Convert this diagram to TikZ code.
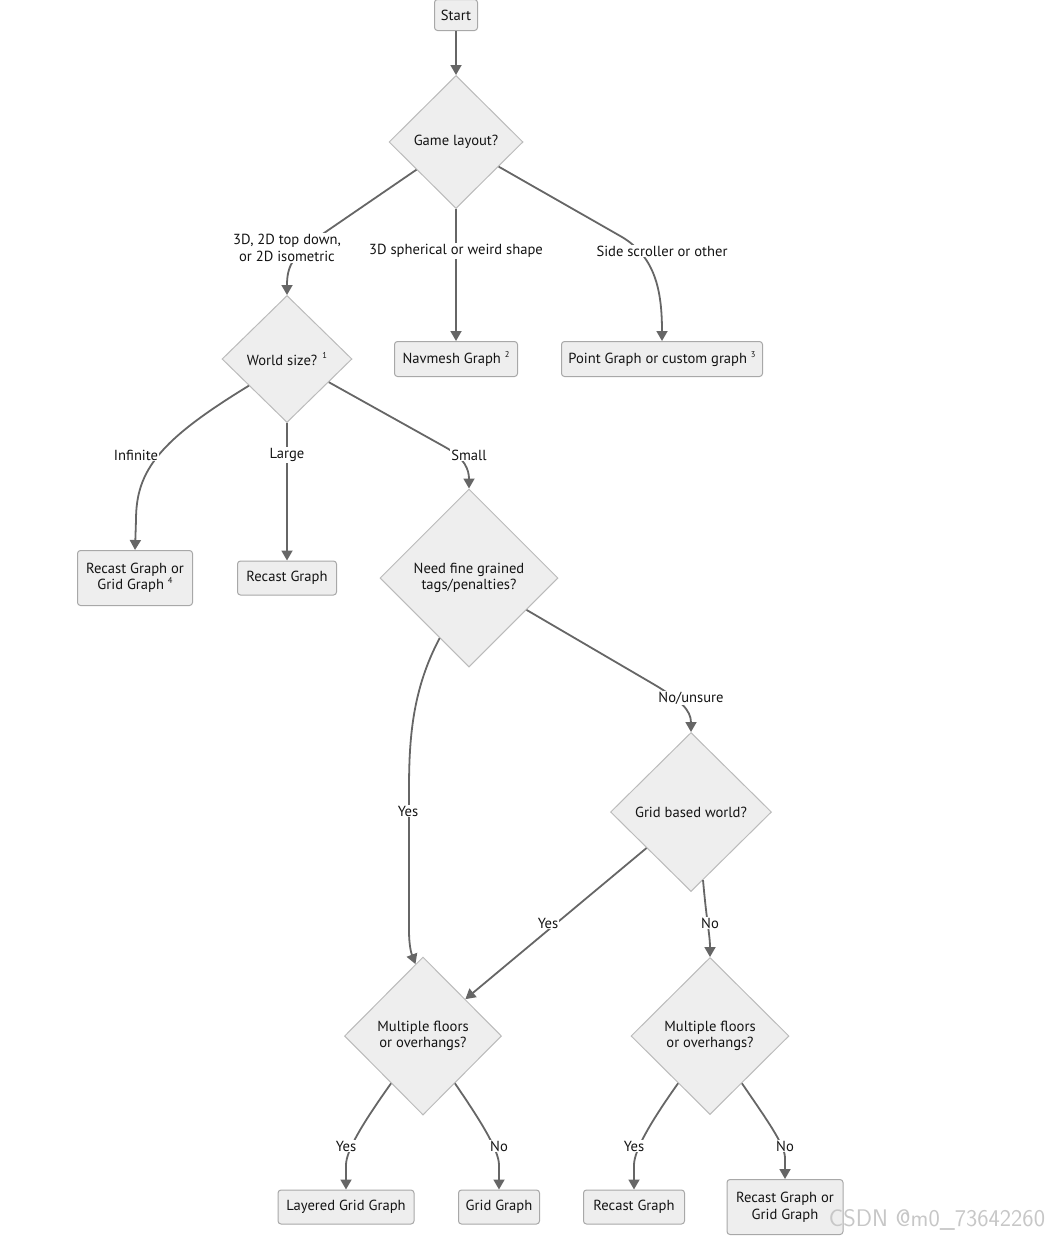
\documentclass[tikz,border=0pt]{standalone}
\usepackage{fontspec}
\setmainfont{PT Sans}
\usetikzlibrary{shapes.geometric,arrows.meta}
\definecolor{boxfill}{HTML}{EEEEEE}
\definecolor{boxline}{HTML}{A8A8A8}
\definecolor{dline}{HTML}{BBBBBB}
\definecolor{edgec}{HTML}{666666}
\definecolor{txt}{HTML}{141414}
\newcommand{\supnum}[1]{\raisebox{0.42em}{\fontsize{8.5}{8.5}\selectfont #1}}
\begin{document}
\begin{tikzpicture}[x=1pt,y=-1pt,
  font=\fontsize{14.6}{16.5}\selectfont,
  every node/.style={text=txt},
  box/.style={draw=boxline, fill=boxfill, rounded corners=3pt, line width=1pt, align=center, inner sep=0pt},
  dec/.style={diamond, aspect=1, draw=dline, fill=boxfill, line width=1pt, align=center, inner sep=0pt},
  arr/.style={draw=edgec, line width=1.8pt, -{Triangle[length=10pt,width=11pt]}},
  elabel/.style={fill=white, inner sep=1pt, align=center},
]
\useasboundingbox (0,0) rectangle (1051,1237);
% nodes
\node[box, minimum width=43pt, minimum height=31pt] (start) at (456,15) {Start};
\node[dec, minimum width=134pt, minimum height=133pt] (gl) at (456,142) {Game layout?};
\node[dec, minimum width=130pt, minimum height=127pt] (ws) at (287,359) {World size? \supnum{1}};
\node[box, minimum width=123pt, minimum height=35pt] (nav) at (456,359) {Navmesh Graph \supnum{2}};
\node[box, minimum width=201pt, minimum height=35pt] (pg) at (662,359) {Point Graph or custom graph \supnum{3}};
\node[box, minimum width=115pt, minimum height=55pt] (rg4) at (135,578) {Recast Graph or\\Grid Graph \supnum{4}};
\node[box, minimum width=99pt, minimum height=34pt] (rc1) at (287,578) {Recast Graph};
\node[dec, minimum width=178pt, minimum height=178pt] (nf) at (469,578) {Need fine grained\\tags/penalties?};
\node[dec, minimum width=161pt, minimum height=159pt] (gb) at (691,812) {Grid based world?};
\node[dec, minimum width=157pt, minimum height=158pt] (mfl) at (423,1036) {Multiple floors\\or overhangs?};
\node[dec, minimum width=158pt, minimum height=157pt] (mfr) at (710,1036) {Multiple floors\\or overhangs?};
\node[box, minimum width=136pt, minimum height=34pt] (lg) at (346,1207) {Layered Grid Graph};
\node[box, minimum width=81pt, minimum height=34pt] (gg) at (499,1207) {Grid Graph};
\node[box, minimum width=101pt, minimum height=34pt] (rc2) at (634,1207) {Recast Graph};
\node[box, minimum width=116pt, minimum height=55pt] (rg) at (785,1207) {Recast Graph or\\Grid Graph};
% edges
\draw[arr] (start.south) -- (gl.north);
\draw[arr] (gl.215) -- (327,231) .. controls (293,254) and (287,265) .. (ws.north);
\draw[arr] (gl.south) -- (nav.north);
\draw[arr] (gl.-30) -- (622,237) .. controls (655,257) and (662,290) .. (pg.north);
\draw[arr] (ws.215) .. controls (160,440) and (136,470) .. (136,520) -- (rg4.north);
\draw[arr] (ws.south) -- (rc1.north);
\draw[arr] (ws.-29) -- (445,447) .. controls (465,458) and (469,470) .. (nf.north);
\draw[arr] (nf.244) .. controls (412,690) and (409,740) .. (409,790) -- (409,930) .. controls (409,948) and (412,955) .. (mfl.96);
\draw[arr] (nf.-29) -- (655,685) .. controls (680,700) and (691,710) .. (gb.north);
\draw[arr] (gb.219) -- (mfl.41);
\draw[arr] (gb.-80) .. controls (707,925) and (710,935) .. (mfr.north);
\draw[arr] (mfl.236) .. controls (365,1120) and (346,1150) .. (346,1165) -- (lg.north);
\draw[arr] (mfl.-56) .. controls (480,1120) and (499,1150) .. (499,1165) -- (gg.north);
\draw[arr] (mfr.236) .. controls (652,1120) and (634,1150) .. (634,1165) -- (rc2.north);
\draw[arr] (mfr.-56) .. controls (767,1120) and (785,1145) .. (785,1158) -- (rg.north);
% edge labels
\node[elabel] (l1) at (287,248) {3D, 2D top down,\\or 2D isometric};
\node[elabel] (l2) at (456,251) {3D spherical or weird shape};
\node[elabel] (l3) at (662,251) {Side scroller or other};
\node[elabel] (l4) at (136,455) {Infinite};
\node[elabel] (l5) at (287,455) {Large};
\node[elabel] (l6) at (469,455) {Small};
\node[elabel] (l7) at (691,698) {No/unsure};
\node[elabel] (l8) at (408,811) {Yes};
\node[elabel] (l9) at (548,923) {Yes};
\node[elabel] (l10) at (710,923) {No};
\node[elabel] (l11) at (346,1146) {Yes};
\node[elabel] (l12) at (499,1146) {No};
\node[elabel] (l13) at (634,1146) {Yes};
\node[elabel] (l14) at (785,1146) {No};
% watermark
\node[text=black!22, font=\fontsize{24}{24}\selectfont\sffamily] (wm) at (937,1220) {CSDN @m0\_73642260};
\end{tikzpicture}
\end{document}
